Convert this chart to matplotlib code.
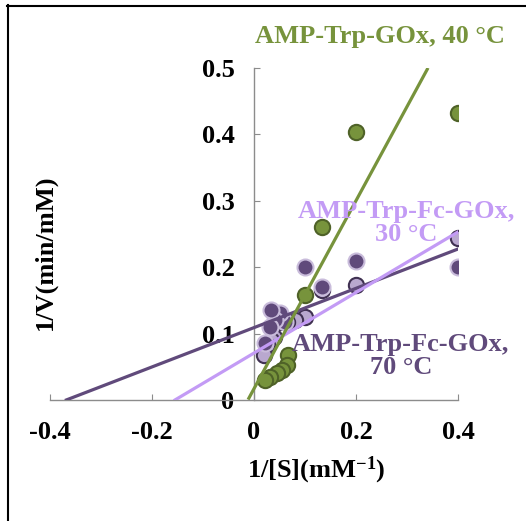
import numpy as np
import matplotlib
matplotlib.use("Agg")
import matplotlib.pyplot as plt
from matplotlib.lines import Line2D

plt.rcParams['font.family'] = ['Liberation Serif', 'DejaVu Serif']
plt.rcParams['font.weight'] = 'bold'
plt.rcParams['mathtext.fontset'] = 'custom'
plt.rcParams['mathtext.rm'] = 'Liberation Serif:bold'
plt.rcParams['mathtext.default'] = 'regular'

# AMP-Trp-GOx, 40 C
x40 = [0.4, 0.2, 0.133, 0.1, 0.067, 0.064, 0.055, 0.045, 0.031, 0.022]
y40 = [0.432, 0.404, 0.26, 0.158, 0.068, 0.053, 0.045, 0.04, 0.035, 0.03]
# AMP-Trp-Fc-GOx, 30 C
x30 = [0.4, 0.2, 0.133, 0.1, 0.08, 0.064, 0.05, 0.04, 0.033, 0.025, 0.02]
y30 = [0.244, 0.173, 0.165, 0.125, 0.12, 0.117, 0.118, 0.095, 0.09, 0.083, 0.068]
# AMP-Trp-Fc-GOx, 70 C
x70 = [0.4, 0.2, 0.133, 0.1, 0.061, 0.051, 0.041, 0.033, 0.031, 0.022]
y70 = [0.2, 0.21, 0.17, 0.2, 0.117, 0.131, 0.12, 0.136, 0.11, 0.086]

# trendlines (slope, intercept)
fit40 = [1.416, 0.017]
fit30 = [0.456, 0.0707]
fit70 = [0.296, 0.109]

c40, c40e = '#77933C', '#4F6228'
c30, c30e = '#B9A8CF', '#403152'
c70, c70e = '#604A7B', '#C9BCDB'
l30 = '#C39BF5'

W, H = 526, 521
fig = plt.figure(figsize=(W / 100, H / 100), dpi=100)
ax = fig.add_axes([50 / W, 1 - 400 / H, 408 / W, 332 / H])

fs = 19
ax.plot(x30, y30, 'o', ms=11, mfc=c30, mec=c30e, mew=1.5, zorder=3)
ax.plot(x70, y70, 'o', ms=11.5, mfc=c70, mec=c70e, mew=1.5, zorder=3)
ax.plot(x40, y40, 'o', ms=11, mfc=c40, mec=c40e, mew=1.5, zorder=3)

xs = np.linspace(-0.4, 0.4, 200)
for (m, b), col in [(fit70, c70), (fit30, l30), (fit40, c40)]:
    ys = m * xs + b
    ok = (ys >= 0) & (ys <= 0.5)
    ax.plot(xs[ok], ys[ok], color=col, lw=2.3, zorder=4)

ax.set_xlim(-0.4, 0.4)
ax.set_ylim(0, 0.5)
ax.spines['left'].set_position(('data', 0))
ax.spines['top'].set_visible(False)
ax.spines['right'].set_visible(False)
for s in ['left', 'bottom']:
    ax.spines[s].set_color('#8C8C8C')
    ax.spines[s].set_linewidth(1)
ax.set_xticks([-0.4, -0.2, 0, 0.2, 0.4])
ax.set_xticklabels(['-0.4', '-0.2', '0', '0.2', '0.4'])
ax.set_yticks([0, 0.1, 0.2, 0.3, 0.4, 0.5])
ax.set_yticklabels(['0', '0.1', '0.2', '0.3', '0.4', '0.5'])
ax.tick_params(axis='both', direction='in', length=4, color='#8C8C8C',
               labelsize=fs)
ax.tick_params(axis='x', pad=15)
ax.tick_params(axis='y', pad=14)
ax.patch.set_alpha(0)

ax.text(0.247, 0.547, 'AMP-Trp-GOx, 40 °C', color=c40, fontsize=fs,
        ha='center', va='center', clip_on=False)
ax.text(0.298, 0.267, 'AMP-Trp-Fc-GOx,\n30 °C', color=l30, fontsize=fs,
        ha='center', va='center', linespacing=1.0, zorder=5)
ax.text(0.288, 0.066, 'AMP-Trp-Fc-GOx,\n70 °C', color=c70, fontsize=fs,
        ha='center', va='center', linespacing=1.0, zorder=5)

fig.text(316 / W, 1 - 470 / H, '1/[S](mM$^{-1}$)', fontsize=fs,
         ha='center', va='center')
fig.text(45 / W, 1 - 252 / H, '1/V(min/mM)', fontsize=fs, rotation=90,
         ha='center', va='center')

# chart border (left and top edges visible)
fig.add_artist(Line2D([7.5 / W, 7.5 / W], [0, 1 - 5 / H], color='black', lw=1.5))
fig.add_artist(Line2D([7 / W, 1], [1 - 5.5 / H, 1 - 5.5 / H], color='black', lw=1.5))

fig.savefig('out.png', dpi=100)
